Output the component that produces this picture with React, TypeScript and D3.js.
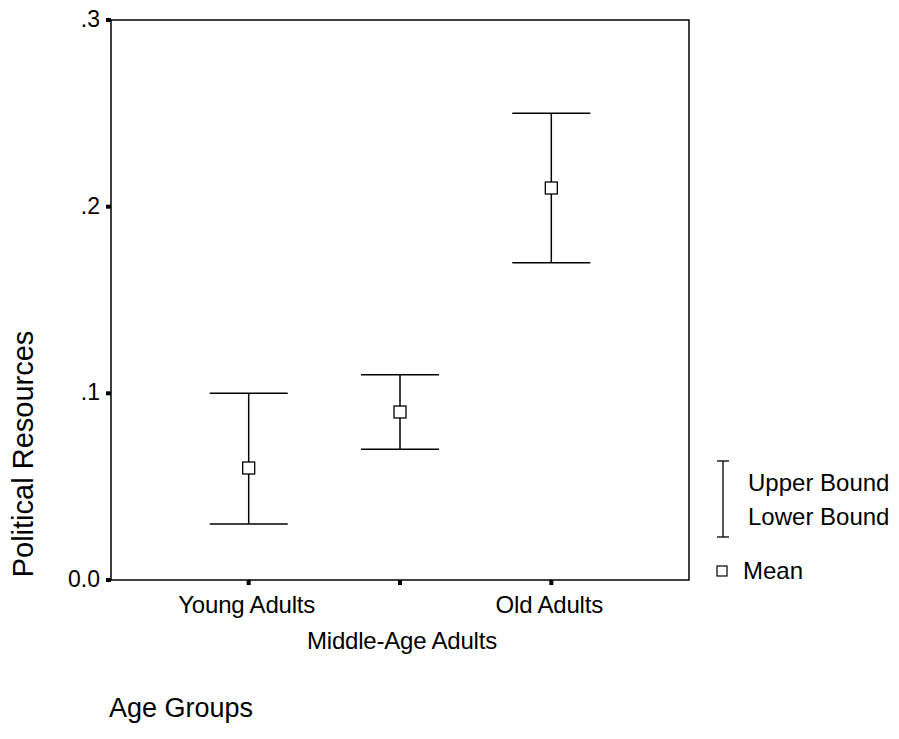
import React from 'react';
import { scaleLinear, scalePoint } from 'd3';

const groups = ['Young Adults', 'Middle-Age Adults', 'Old Adults'];
const means = [0.06, 0.09, 0.21];
const upper = [0.1, 0.11, 0.25];
const lower = [0.03, 0.07, 0.17];
const yTicks = [0, 0.1, 0.2, 0.3];
const yTickLabels = ['0.0', '.1', '.2', '.3'];

const width = 899;
const height = 739;
const frame = { left: 111, right: 689, top: 20, bottom: 580 };
const font = 'Liberation Sans, Arial, sans-serif';

export default function App() {
  const y = scaleLinear().domain([0, 0.3]).range([frame.bottom, frame.top]);
  const x = scalePoint<string>()
    .domain(groups)
    .range([frame.left, frame.right])
    .padding(0.91);

  const capHalf = 39;
  const box = 12;

  return (
    <svg
      width={width}
      height={height}
      style={{ position: 'absolute', left: 0, top: 0, background: '#fff' }}
      fontFamily={font}
    >
      {/* frame */}
      <rect
        x={frame.left}
        y={frame.top}
        width={frame.right - frame.left}
        height={frame.bottom - frame.top}
        fill='none'
        stroke='#000'
        strokeWidth={1.5}
      />

      {/* y ticks */}
      {yTicks.map((t, i) => (
        <g key={t}>
          <rect x={frame.left - 5} y={y(t) - 2} width={5} height={4} fill='#000' />
          <text
            x={frame.left - 11}
            y={y(t)}
            dy='.3em'
            textAnchor='end'
            fontSize={23}
          >
            {yTickLabels[i]}
          </text>
        </g>
      ))}

      {/* x ticks */}
      {groups.map((g, i) => (
        <g key={g}>
          <rect x={x(g)! - 2} y={frame.bottom} width={4} height={5} fill='#000' />
          <text
            x={i === 1 ? x(g)! + 2 : x(g)! - 2}
            y={i === 1 ? 649 : 613}
            textAnchor='middle'
            fontSize={24}
            letterSpacing={-0.2}
          >
            {g}
          </text>
        </g>
      ))}

      {/* error bars */}
      {groups.map((g, i) => {
        const cx = x(g)!;
        return (
          <g key={g} stroke='#000' strokeWidth={1.5} fill='none'>
            <line x1={cx - capHalf} x2={cx + capHalf} y1={y(upper[i])} y2={y(upper[i])} />
            <line x1={cx - capHalf} x2={cx + capHalf} y1={y(lower[i])} y2={y(lower[i])} />
            <line x1={cx} x2={cx} y1={y(upper[i])} y2={y(means[i]) - box / 2} />
            <line x1={cx} x2={cx} y1={y(means[i]) + box / 2} y2={y(lower[i])} />
            <rect
              x={cx - box / 2}
              y={y(means[i]) - box / 2}
              width={box}
              height={box}
              fill='#fff'
              strokeWidth={1.3}
            />
          </g>
        );
      })}

      {/* y axis title */}
      <text
        transform={`translate(33, 454) rotate(-90)`}
        textAnchor='middle'
        fontSize={29}
      >
        Political Resources
      </text>

      {/* bottom label */}
      <text x={109} y={717} fontSize={27}>
        Age Groups
      </text>

      {/* legend */}
      <g stroke='#000' strokeWidth={1.3}>
        <line x1={723} x2={723} y1={461} y2={537} />
        <line x1={717} x2={729} y1={461} y2={461} />
        <line x1={717} x2={729} y1={537} y2={537} />
        <rect x={717} y={566} width={10} height={10} fill='#fff' strokeWidth={1.2} />
      </g>
      <g fontSize={24}>
        <text x={748} y={491}>Upper Bound</text>
        <text x={748} y={525}>Lower Bound</text>
        <text x={743} y={579}>Mean</text>
      </g>
    </svg>
  );
}
